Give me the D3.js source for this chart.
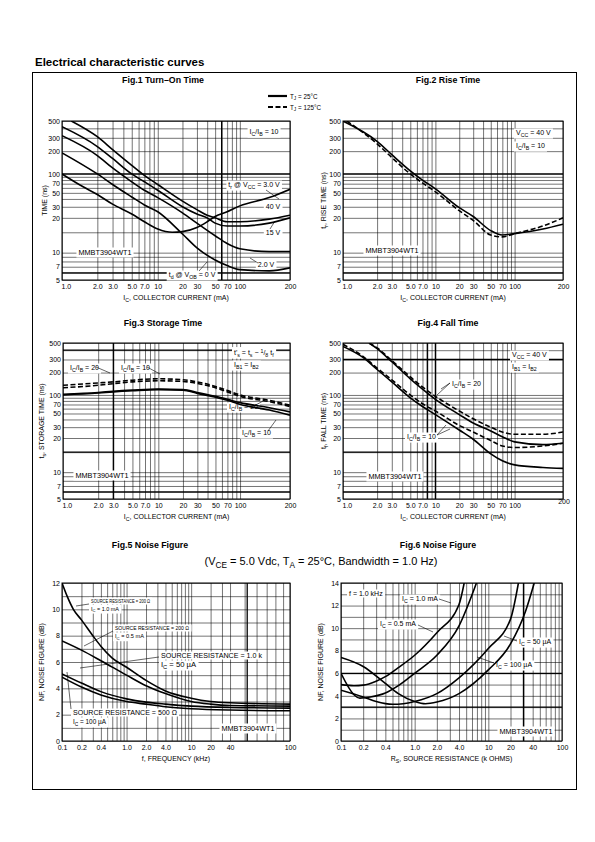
<!DOCTYPE html>
<html><head><meta charset="utf-8">
<script src="https://cdn.jsdelivr.net/npm/d3@7"></script>
<style>
body{margin:0;background:#fff}
svg{display:block}
text{font-family:"Liberation Sans",Arial,Helvetica,sans-serif;fill:#000}
</style></head>
<body><svg id="c" width="595" height="842"></svg>
<script>
// ================= DATA =================
const timeTicks = [5,7,10,20,30,50,70,100,200,300,500];
const currentTicks = [1,2,3,5,7,10,20,30,50,70,100,200];
const freqTicks = [0.1,0.2,0.4,1,2,4,10,20,40,100];
const resistTicks = [0.1,0.2,0.4,1,2,4,10,20,40,100];
const nfTicks5 = [0,2,4,6,8,10,12];
const nfTicks6 = [0,2,4,6,8,10,12,14];

// Fig.1 Turn-On Time (IC mA, time ns)
const turnOn_tr3V  = [[1,100],[1.5,63],[2,47],[3,33],[5,23],[7,18.5],[10,16],[15,15],[20,15.2],[30,16.5],[40,18.5],[50,21],[70,25],[100,31],[150,42],[200,57]];
const turnOn_tr40V = [[1.2,500],[2,310],[3,210],[5,130],[7,95],[10,68],[20,37],[30,27],[40,22],[50,20],[70,18.5],[100,18.5],[150,19.5],[200,22]];
const turnOn_tr15V = [[1,420],[2,230],[3,160],[5,100],[7,75],[10,55],[20,30],[30,23],[40,20],[50,18],[70,17],[100,17],[150,18],[200,20]];
const turnOn_td2V  = [[1,320],[2,175],[3,120],[5,75],[7,55],[10,42],[20,24],[30,18],[50,14],[70,12],[100,10.8],[150,10.2],[200,10.2]];
const turnOn_td0V  = [[1,190],[2,100],[3,68],[5,43],[7,32],[10,25],[20,14.5],[30,11],[50,8.3],[70,7.2],[100,6.5],[150,6.3],[200,6.8]];

// Fig.2 Rise Time
const rise_25C  = [[1,500],[2,270],[3,180],[5,110],[7,80],[10,58],[20,29],[30,21],[50,15.5],[70,14.2],[100,14.6],[150,16],[200,17.6]];
const rise_125C = [[1.08,500],[2,250],[3,165],[5,100],[7,72],[10,52],[20,26],[30,19],[50,14.2],[70,13.7],[100,14.6],[150,17],[200,20]];

// Fig.3 Storage Time
const storage_20_25C  = [[1,102],[2,108],[3,112],[5,116],[10,120],[20,118],[30,108],[50,95],[70,85],[100,75],[150,62],[200,53]];
const storage_10_25C  = [[1,100],[2,106],[3,110],[5,114],[10,118],[20,116],[30,105],[50,92],[70,82],[100,70],[150,57],[200,47]];
const storage_20_125C = [[1,135],[2,145],[3,150],[5,158],[10,165],[20,160],[30,150],[50,130],[70,115],[100,100],[150,82],[200,68]];
const storage_10_125C = [[1,125],[2,135],[3,142],[5,150],[10,155],[20,152],[30,143],[50,125],[70,110],[100,95],[150,78],[200,65]];

// Fig.4 Fall Time
const fall_20_25C  = [[1.7,500],[2,420],[3,280],[5,165],[7,120],[10,85],[20,48],[30,35],[50,26],[70,21],[100,18.5],[150,17.5],[200,18]];
const fall_20_125C = [[1.7,500],[2,430],[3,290],[5,175],[7,128],[10,95],[20,55],[30,41],[50,30],[70,25],[100,23],[150,23],[200,25]];
const fall_10_25C  = [[1,450],[1.5,320],[2,220],[3,150],[5,90],[7,65],[10,48],[20,27],[30,19.5],[50,14.5],[70,12.6],[100,11.6],[150,11],[200,10.8]];
const fall_10_125C = [[1,480],[1.5,330],[2,230],[3,160],[5,100],[7,72],[10,55],[20,32],[30,25],[50,19],[70,17],[100,16.5],[150,17],[200,18]];

// Fig.5 Noise Figure vs frequency (kHz, dB)
const nfFreq_200R_1mA   = [[0.1,12],[0.12,11],[0.15,10],[0.2,9.2],[0.3,8],[0.4,7.2],[0.6,6.3],[1,5.6],[2,4.6],[4,3.8],[10,3.25],[20,3.0],[40,2.9],[100,2.8]];
const nfFreq_200R_05mA  = [[0.1,7.6],[0.2,6.9],[0.4,6.1],[1,5.0],[2,4.2],[4,3.6],[10,3.0],[20,2.8],[40,2.7],[100,2.65]];
const nfFreq_1k_50uA    = [[0.1,5.1],[0.2,4.4],[0.4,3.75],[1,3.2],[2,2.95],[4,2.8],[10,2.65],[40,2.55],[100,2.5]];
const nfFreq_500R_100uA = [[0.1,4.85],[0.2,4.1],[0.4,3.5],[1,3.0],[2,2.8],[4,2.6],[10,2.45],[40,2.35],[100,2.3]];

// Fig.6 Noise Figure vs source resistance (kOhm, dB)
const nfRes_1mA   = [[0.1,5.0],[0.15,4.9],[0.2,4.95],[0.3,5.3],[0.4,5.7],[0.6,6.5],[1,7.6],[2,9.6],[4,12.1],[4.7,14]];
const nfRes_05mA  = [[0.1,6.0],[0.15,4.1],[0.18,3.8],[0.25,3.9],[0.4,4.25],[0.6,4.9],[1,6.0],[2,7.6],[4,10.2],[6.9,14]];
const nfRes_50uA  = [[0.1,7.4],[0.2,6.6],[0.4,5.1],[0.6,4.2],[1,3.5],[1.4,3.3],[2,3.45],[4,4.2],[10,6.3],[20,8.6],[32,11.5],[42,14]];
const nfRes_100uA = [[0.1,4.5],[0.2,3.9],[0.3,3.5],[0.5,3.25],[0.7,3.3],[1,3.5],[2,4.2],[4,5.6],[10,8.2],[20,10.8],[25.6,14]];

// ================= DRAWING =================
const svg = d3.select("#c");
const FS = 7;

function rich(t, str, fs) {
  const parts = str.split(/(_\{[^}]*\}|\^\{[^}]*\})/).filter(p => p.length);
  let shift = 0;
  parts.forEach(p => {
    let target = 0, s = p, size = fs;
    if (p.startsWith("_{")) { target = fs * 0.3; s = p.slice(2, -1); size = fs * 0.75; }
    else if (p.startsWith("^{")) { target = -fs * 0.35; s = p.slice(2, -1); size = fs * 0.75; }
    t.append("tspan").attr("dy", target - shift).attr("font-size", size).text(s);
    shift = target;
  });
  return t;
}

function label(g, x, y, str, opt) {
  opt = opt || {};
  const fs = opt.fs || FS;
  const t = g.append("text").attr("x", x).attr("y", y)
    .attr("font-size", fs).attr("text-anchor", opt.anchor || "start");
  rich(t, str, fs);
  if (opt.width) t.attr("textLength", opt.width).attr("lengthAdjust", "spacingAndGlyphs");
  if (opt.box) {
    const b = t.node().getBBox();
    g.insert("rect", () => t.node())
      .attr("x", b.x - 2).attr("y", b.y - 0.5)
      .attr("width", b.width + 4).attr("height", b.height + 1)
      .attr("fill", "#fff");
  }
  return t;
}

function panel(cfg) {
  const {L, R, T, B} = cfg;
  const g = svg.append("g");
  const x = cfg.x.copy(), y = cfg.y.copy();
  const Wd = R - L, Ht = B - T;
  g.append("g").attr("transform", `translate(0,${B})`)
    .call(d3.axisBottom(x).tickValues(cfg.xGrid).tickSize(-Ht).tickFormat(""))
    .call(s => { s.select(".domain").remove(); s.selectAll("line").attr("stroke", "#000").attr("stroke-width", 0.55); });
  g.append("g").attr("transform", `translate(${L},0)`)
    .call(d3.axisLeft(y).tickValues(cfg.yGrid).tickSize(-Wd).tickFormat(""))
    .call(s => { s.select(".domain").remove(); s.selectAll("line").attr("stroke", "#000").attr("stroke-width", 0.55); });
  (cfg.xHeavy || []).forEach(v => g.append("line").attr("x1", x(v)).attr("x2", x(v)).attr("y1", T).attr("y2", B).attr("stroke", "#000").attr("stroke-width", 1.3));
  (cfg.yHeavy || []).forEach(v => g.append("line").attr("x1", L).attr("x2", R).attr("y1", y(v)).attr("y2", y(v)).attr("stroke", "#000").attr("stroke-width", 1.3));
  g.append("rect").attr("x", L).attr("y", T).attr("width", Wd).attr("height", Ht)
    .attr("fill", "none").attr("stroke", "#000").attr("stroke-width", 1);
  const xa = g.append("g").attr("transform", `translate(0,${B})`)
    .call(d3.axisBottom(x).tickValues(cfg.xTicks).tickSize(0).tickPadding(4).tickFormat(cfg.xFmt));
  xa.select(".domain").remove();
  xa.selectAll("text").attr("font-size", FS).attr("font-family", null).attr("fill", "#000");
  if (cfg.firstStart) xa.selectAll("text").filter((d, i) => i === 0).attr("text-anchor", "start").attr("x", -1);
  const ya = g.append("g").attr("transform", `translate(${L},0)`)
    .call(d3.axisLeft(y).tickValues(cfg.yTicks).tickSize(0).tickPadding(2).tickFormat(cfg.yFmt || (d => String(d))));
  ya.select(".domain").remove();
  ya.selectAll("text").attr("font-size", FS).attr("font-family", null).attr("fill", "#000");
  label(g, (L + R) / 2, B + 19.5, cfg.xTitle, {anchor: "middle"});
  const yt = g.append("text").attr("transform", `translate(${L - cfg.yTitleOff},${(T + B) / 2}) rotate(-90)`)
    .attr("font-size", FS).attr("text-anchor", "middle");
  rich(yt, cfg.yTitle, FS);
  const ann = g.append("g");
  (cfg.notes || []).forEach(n => label(ann, L + n[0], T + n[1], n[2],
    {anchor: n[3] || "start", box: true, fs: n[4] || FS, width: n[5]}));
  const clipId = "clip" + cfg.id;
  svg.append("clipPath").attr("id", clipId).append("rect").attr("x", L).attr("y", T).attr("width", Wd).attr("height", Ht);
  const line = d3.line().x(d => x(d[0])).y(d => y(d[1])).curve(d3.curveMonotoneX);
  const cg = g.append("g").attr("clip-path", `url(#${clipId})`);
  cfg.series.forEach(s => {
    cg.append("path").attr("d", line(s.data)).attr("fill", "none").attr("stroke", "#000")
      .attr("stroke-width", 1.6).attr("stroke-dasharray", s.dash ? "5,2.5" : null);
  });
  (cfg.leaders || []).forEach(l => g.append("line")
    .attr("x1", L + l[0]).attr("y1", T + l[1]).attr("x2", L + l[2]).attr("y2", T + l[3])
    .attr("stroke", "#000").attr("stroke-width", 0.6));
  return {g, x, y};
}

// scale builders (follow the reference's tick-label spacing)
const curFrac = [0, 0.155, 0.42, 0.78, 1];
const curDom = [1, 2, 10, 100, 200];
const timeFrac = [1, 0.828, 0.609, 0.333, 0];
const timeDom = [5, 10, 20, 100, 500];
function curScale(L, R) { return d3.scaleLog().domain(curDom).range(curFrac.map(f => L + f * (R - L))); }
function timeScale(T, B) { return d3.scaleLog().domain(timeDom).range(timeFrac.map(f => T + f * (B - T))); }

const curGrid = [1,2,3,4,5,6,7,8,9,10,20,30,40,50,60,70,80,90,100,200];
const timeGrid = [5,6,7,8,9,10,15,20,30,40,50,60,70,80,90,100,200,300,400,500];
const fmtCur = d => d < 10 ? d.toFixed(1) : String(d);
const fmtFreq = d => (d >= 1 && d < 10) ? d.toFixed(1) : String(d);
const decGrid = [];
[0.1, 1, 10].forEach(b => { for (let k = 1; k <= 9; k++) decGrid.push(+(b * k).toPrecision(3)); });
decGrid.push(100);

svg.append("text").attr("x", 35).attr("y", 66).attr("font-size", 11.5).attr("font-weight", "bold")
  .text("Electrical characteristic curves");
svg.append("rect").attr("x", 32.5).attr("y", 72.5).attr("width", 544).attr("height", 717)
  .attr("fill", "none").attr("stroke", "#000").attr("stroke-width", 1);

function figTitle(cx, cy, s) {
  svg.append("text").attr("x", cx).attr("y", cy).attr("font-size", 8.8).attr("font-weight", "bold")
    .attr("text-anchor", "middle").text(s);
}
figTitle(163, 83, "Fig.1 Turn\u2013On Time");
figTitle(448, 83, "Fig.2 Rise Time");
figTitle(163, 326, "Fig.3 Storage Time");
figTitle(448, 326, "Fig.4 Fall Time");
figTitle(150, 548, "Fig.5 Noise Figure");
figTitle(438, 548, "Fig.6 Noise Figure");
label(svg, 321, 565, "(V_{CE} = 5.0 Vdc, T_{A} = 25\u00B0C, Bandwidth = 1.0 Hz)", {anchor: "middle", fs: 11});

const lg = svg.append("g");
lg.append("line").attr("x1", 268).attr("x2", 287).attr("y1", 96).attr("y2", 96).attr("stroke", "#000").attr("stroke-width", 2.2);
lg.append("line").attr("x1", 268).attr("x2", 287).attr("y1", 107).attr("y2", 107).attr("stroke", "#000").attr("stroke-width", 2.2).attr("stroke-dasharray", "5,2.5");
label(lg, 290, 98.5, "T_{J} = 25\u00B0C", {fs: 6.3});
label(lg, 290, 109.5, "T_{J} = 125\u00B0C", {fs: 6.3});

// Fig 1
(function () {
  const P = {L: 62, R: 290, T: 121, B: 280};
  panel(Object.assign({}, P, {
    id: 1, x: curScale(P.L, P.R), y: timeScale(P.T, P.B),
    xGrid: curGrid, yGrid: timeGrid, xTicks: currentTicks, yTicks: timeTicks, xFmt: fmtCur, firstStart: true,
    xHeavy: [60], yHeavy: [100, 6],
    xTitle: "I_{C}, COLLECTOR CURRENT (mA)", yTitle: "TIME (ns)", yTitleOff: 15,
    series: [{data: turnOn_tr3V}, {data: turnOn_tr40V}, {data: turnOn_tr15V}, {data: turnOn_td2V}, {data: turnOn_td0V}],
    notes: [[202, 13, "I_{C}/I_{B} = 10", "middle"], [192, 66, "t_{r} @ V_{CC} = 3.0 V", "middle"],
            [211, 88, "40 V", "middle"], [211, 114, "15 V", "middle"], [204, 146, "2.0 V", "middle"],
            [130, 156, "t_{d} @ V_{OB} = 0 V", "middle"], [43, 134, "MMBT3904WT1", "middle", 7.3]],
    leaders: [[204, 69, 217, 78], [208, 108, 213, 100], [196, 142, 188, 137], [137, 150, 145, 141]]
  }));
})();

// Fig 2
(function () {
  const P = {L: 343, R: 563, T: 121, B: 280};
  panel(Object.assign({}, P, {
    id: 2, x: curScale(P.L, P.R), y: timeScale(P.T, P.B),
    xGrid: curGrid, yGrid: timeGrid, xTicks: currentTicks, yTicks: timeTicks, xFmt: fmtCur, firstStart: true,
    yHeavy: [100, 6],
    xTitle: "I_{C}, COLLECTOR CURRENT (mA)", yTitle: "t_{r}, RISE TIME (ns)", yTitleOff: 17,
    series: [{data: rise_25C}, {data: rise_125C, dash: true}],
    notes: [[173, 14, "V_{CC} = 40 V"], [173, 27, "I_{C}/I_{B} = 10"], [49, 132, "MMBT3904WT1", "middle", 7.3]]
  }));
})();

// Fig 3
(function () {
  const P = {L: 63, R: 290, T: 343, B: 499};
  panel(Object.assign({}, P, {
    id: 3, x: curScale(P.L, P.R), y: timeScale(P.T, P.B),
    xGrid: curGrid, yGrid: timeGrid, xTicks: currentTicks, yTicks: timeTicks, xFmt: fmtCur, firstStart: true,
    xHeavy: [3], yHeavy: [400, 15, 6],
    xTitle: "I_{C}, COLLECTOR CURRENT (mA)", yTitle: "t_{s}, STORAGE TIME (ns)", yTitleOff: 19,
    series: [{data: storage_20_25C}, {data: storage_10_25C}, {data: storage_20_125C, dash: true}, {data: storage_10_125C, dash: true}],
    notes: [[171, 12, "t'_{s} = t_{s} \u2212 ^{1}/_{8} t_{f}"], [171, 24, "I_{B1} = I_{B2}"],
            [7, 27, "I_{C}/I_{B} = 20"], [58, 27, "I_{C}/I_{B} = 10"],
            [166, 66, "I_{C}/I_{B} = 20"], [179, 92, "I_{C}/I_{B} = 10"], [39, 135, "MMBT3904WT1", "middle", 7.3]],
    leaders: [[33, 24, 47, 30], [84, 24, 97, 31], [191, 63, 200, 58], [205, 88, 213, 77]]
  }));
})();

// Fig 4
(function () {
  const P = {L: 343, R: 563, T: 343, B: 499};
  const r = panel(Object.assign({}, P, {
    id: 4, x: curScale(P.L, P.R), y: timeScale(P.T, P.B),
    xGrid: curGrid, yGrid: timeGrid, xTicks: currentTicks.slice(0, -1), yTicks: timeTicks, xFmt: fmtCur, firstStart: true,
    xHeavy: [8, 10], yHeavy: [300, 15, 6],
    xTitle: "I_{C}, COLLECTOR CURRENT (mA)", yTitle: "t_{f}, FALL TIME (ns)", yTitleOff: 17,
    series: [{data: fall_20_25C}, {data: fall_20_125C, dash: true}, {data: fall_10_25C}, {data: fall_10_125C, dash: true}],
    notes: [[169, 14, "V_{CC} = 40 V"], [169, 26, "I_{B1} = I_{B2}"],
            [109, 43, "I_{C}/I_{B} = 20"], [64, 96, "I_{C}/I_{B} = 10"], [52, 136, "MMBT3904WT1", "middle", 7.3]],
    leaders: [[107, 40, 98, 46], [107, 40, 94, 52], [94, 92, 103, 82], [94, 92, 107, 86]]
  }));
  r.g.append("text").attr("x", P.R + 1).attr("y", P.B + 5).attr("font-size", FS).attr("text-anchor", "middle").text(currentTicks[currentTicks.length - 1]);
})();

// Fig 5
(function () {
  const P = {L: 62, R: 290, T: 583, B: 741};
  panel(Object.assign({}, P, {
    id: 5,
    x: d3.scaleLog().domain([0.1, 40, 100]).range([P.L, P.L + 0.737 * (P.R - P.L), P.R]),
    y: d3.scaleLinear().domain([0, 12]).range([P.B, P.T]),
    xGrid: decGrid, yGrid: d3.range(0, 13, 1), xTicks: freqTicks, yTicks: nfTicks5, xFmt: fmtFreq,
    xHeavy: [52],
    xTitle: "f, FREQUENCY (kHz)", yTitle: "NF, NOISE FIGURE (dB)", yTitleOff: 18,
    series: [{data: nfFreq_200R_1mA}, {data: nfFreq_200R_05mA}, {data: nfFreq_1k_50uA}, {data: nfFreq_500R_100uA}],
    notes: [[29, 20, "SOURCE RESISTANCE = 200 \u03A9", "start", 5.2, 59], [29, 27.5, "I_{C} = 1.0 mA", "start", 5.2, 28],
            [53, 47, "SOURCE RESISTANCE = 200 \u03A9", "start", 5.8, 74], [53, 55, "I_{C} = 0.5 mA", "start", 5.8, 29],
            [99, 75, "SOURCE RESISTANCE = 1.0 k", "start", 6.8, 101], [99, 84, "I_{C} = 50 \u00B5A", "start", 6.8, 35],
            [11, 132, "SOURCE RESISTANCE = 500 \u03A9", "start", 6.8, 104], [11, 141, "I_{C} = 100 \u00B5A", "start", 6.8, 33],
            [186, 148, "MMBT3904WT1", "middle", 7.3]],
    leaders: [[27, 21, 14, 23], [51, 48, 22, 63], [97, 74, 18, 85], [9, 126, 5, 89]]
  }));
})();

// Fig 6
(function () {
  const P = {L: 341, R: 562, T: 583, B: 741};
  panel(Object.assign({}, P, {
    id: 6,
    x: d3.scaleLog().domain([0.1, 100]).range([P.L, P.R]),
    y: d3.scaleLinear().domain([0, 14]).range([P.B, P.T]),
    xGrid: decGrid, yGrid: d3.range(0, 15, 1), xTicks: resistTicks, yTicks: nfTicks6, xFmt: fmtFreq,
    xHeavy: [30], yHeavy: [6, 3],
    xTitle: "R_{S}, SOURCE RESISTANCE (k OHMS)", yTitle: "NF, NOISE FIGURE (dB)", yTitleOff: 18,
    series: [{data: nfRes_1mA}, {data: nfRes_05mA}, {data: nfRes_50uA}, {data: nfRes_100uA}],
    notes: [[8, 13, "f = 1.0 kHz"], [61, 18, "I_{C} = 1.0 mA"], [39, 43, "I_{C} = 0.5 mA"],
            [178, 61, "I_{C} = 50 \u00B5A"], [155, 84, "I_{C} = 100 \u00B5A"], [185, 151, "MMBT3904WT1", "middle", 7.3]],
    leaders: [[98, 16, 110, 20], [77, 42, 92, 49], [176, 58, 163, 53], [153, 80, 136, 74]]
  }));
})();
</script></body></html>
